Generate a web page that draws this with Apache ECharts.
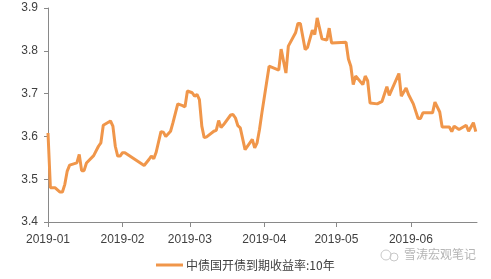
<!DOCTYPE html>
<html><head><meta charset="utf-8">
<script src="https://cdn.jsdelivr.net/npm/echarts@6/dist/echarts.min.js"></script>
<style>html,body{margin:0;padding:0;background:#fff}#c{width:491px;height:279px}</style>
</head><body><div id="c"></div>
<script>
var seriesName = '中债国开债到期收益率:10年';
var dates = ['2019-01-01','2019-01-02','2019-01-04','2019-01-06','2019-01-07','2019-01-08','2019-01-09','2019-01-10','2019-01-13','2019-01-14','2019-01-15','2019-01-16','2019-01-17','2019-01-20','2019-01-22','2019-01-23','2019-01-24','2019-01-27','2019-01-28','2019-01-29','2019-01-30','2019-01-31',
'2019-02-01','2019-02-02','2019-02-10','2019-02-12','2019-02-13','2019-02-14','2019-02-15','2019-02-17','2019-02-18','2019-02-19','2019-02-21','2019-02-22','2019-02-24','2019-02-26','2019-02-27','2019-02-28',
'2019-03-02','2019-03-03','2019-03-04','2019-03-05','2019-03-06','2019-03-07','2019-03-08','2019-03-11','2019-03-12','2019-03-13','2019-03-14','2019-03-15','2019-03-18','2019-03-19','2019-03-20','2019-03-21','2019-03-22','2019-03-24','2019-03-26','2019-03-27','2019-03-28','2019-03-29','2019-03-30','2019-03-31',
'2019-04-03','2019-04-07','2019-04-08','2019-04-10','2019-04-11','2019-04-14','2019-04-15','2019-04-16','2019-04-18','2019-04-19','2019-04-21','2019-04-22','2019-04-23','2019-04-25','2019-04-27','2019-04-28','2019-04-29',
'2019-05-05','2019-05-06','2019-05-07','2019-05-08','2019-05-09','2019-05-12','2019-05-13','2019-05-14','2019-05-15','2019-05-18','2019-05-20','2019-05-22','2019-05-23','2019-05-27','2019-05-28','2019-05-30','2019-05-31',
'2019-06-02','2019-06-04','2019-06-05','2019-06-06','2019-06-10','2019-06-11','2019-06-13','2019-06-14','2019-06-17','2019-06-18','2019-06-19','2019-06-21','2019-06-24','2019-06-25','2019-06-27','2019-06-28'];
var values = [3.608,3.48,3.48,3.47,3.47,3.488,3.519,3.533,3.538,3.558,3.52,3.52,3.538,3.555,3.577,3.585,3.626,3.636,3.624,3.577,3.554,3.554,
3.562,3.562,3.532,3.546,3.554,3.548,3.563,3.611,3.61,3.6,3.612,3.632,3.676,3.672,3.669,3.706,
3.702,3.694,3.698,3.686,3.624,3.597,3.599,3.612,3.614,3.637,3.621,3.627,3.65,3.651,3.643,3.625,3.62,3.569,3.585,3.593,3.573,3.585,3.616,3.655,
3.764,3.755,3.804,3.748,3.811,3.842,3.864,3.864,3.803,3.808,3.848,3.838,3.877,3.828,3.825,3.853,3.818,
3.82,3.781,3.764,3.721,3.741,3.721,3.741,3.73,3.678,3.676,3.682,3.716,3.696,3.747,3.694,3.713,3.698,
3.676,3.642,3.642,3.655,3.655,3.68,3.657,3.622,3.622,3.611,3.624,3.616,3.626,3.612,3.632,3.611];
var yTicks = [3.4, 3.5, 3.6, 3.7, 3.8, 3.9];
var watermark = '雪涛宏观笔记';

var data = dates.map(function(d, i){ return [d, values[i]]; });
var chart = echarts.init(document.getElementById('c'));
chart.setOption({
  animation: false,
  textStyle: {fontFamily: 'Liberation Sans, Arial, Noto Sans CJK SC, sans-serif'},
  grid: {left: 48, right: 14, top: 8, bottom: 57},
  xAxis: {
    type: 'time',
    min: '2019-01-01', max: '2019-06-28 12:00',
    splitNumber: 6,
    axisLine: {lineStyle: {color: '#898989', width: 1}},
    axisTick: {show: true, length: 5, lineStyle: {color: '#898989'}},
    splitLine: {show: false},
    axisLabel: {color: '#404040', fontSize: 12, margin: 12, showMinLabel: true, showMaxLabel: false,
      formatter: function(v){ var d = new Date(v); var m = d.getMonth()+1; return d.getFullYear() + '-' + (m < 10 ? '0' + m : m); }}
  },
  yAxis: {
    type: 'value', min: yTicks[0], max: yTicks[yTicks.length-1], interval: 0.1,
    axisLine: {show: true, lineStyle: {color: '#898989', width: 1}},
    axisTick: {show: true, length: 4, lineStyle: {color: '#898989'}},
    splitLine: {show: false},
    axisLabel: {color: '#404040', fontSize: 12, margin: 10, formatter: function(v){ return v.toFixed(1); }}
  },
  legend: {
    bottom: 3, left: 151,
    itemWidth: 27, itemHeight: 3, itemGap: 4,
    textStyle: {color: '#404040', fontSize: 12, fontFamily: 'Noto Sans CJK SC, sans-serif', padding: [0, 0, 0, -2]},
    data: [{name: seriesName, icon: 'rect'}]
  },
  graphic: [{
    type: 'text', left: 404, top: 248,
    style: {text: watermark, fill: '#b5b5b5', font: '12px "Noto Sans CJK SC", sans-serif'}
  }, {
    type: 'circle', shape: {cx: 386, cy: 255, r: 5}, style: {fill: 'none', stroke: '#c8c8c8', lineWidth: 1}
  }, {
    type: 'circle', shape: {cx: 394, cy: 257, r: 4}, style: {fill: 'none', stroke: '#c8c8c8', lineWidth: 1}
  }],
  series: [{
    name: seriesName, type: 'line', data: data,
    showSymbol: false, symbol: 'none',
    lineStyle: {color: '#F0964A', width: 3},
    itemStyle: {color: '#F0964A'}
  }]
});
</script></body></html>
